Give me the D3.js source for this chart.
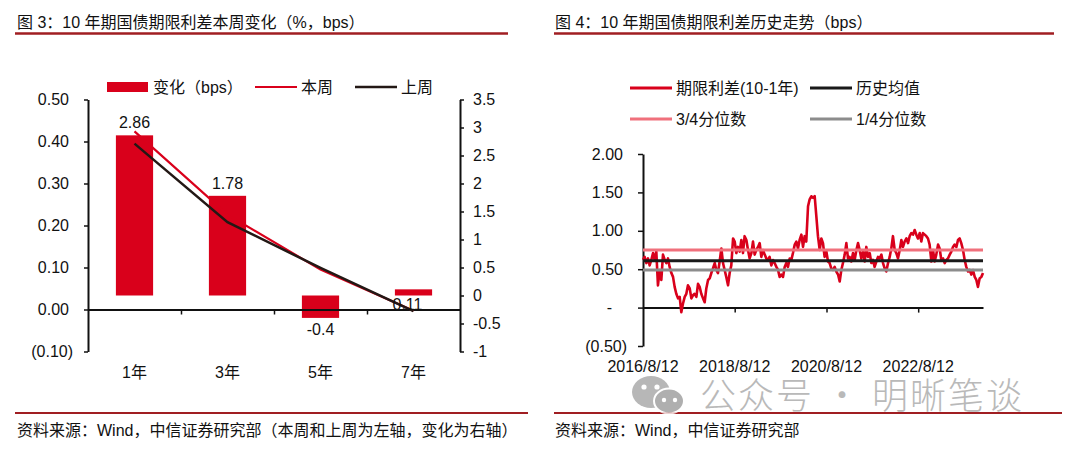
<!DOCTYPE html>
<html>
<head>
<meta charset="utf-8">
<script src="https://cdn.jsdelivr.net/npm/d3@7"></script>
<style>
body { margin: 0; background: #fff; }
text { font-family: "Liberation Sans", Arial, "Noto Sans CJK SC", sans-serif; fill: #111; }
</style>
</head>
<body>
<svg id="chart" width="1072" height="449"></svg>
<script>
// ---- left chart data (figure 3)
var tenors = ['1年', '3年', '5年', '7年'];
var thisWeek = [0.424, 0.226, 0.095, -0.003];
var lastWeek = [0.395, 0.208, 0.099, -0.004];
var changeBps = [2.86, 1.78, -0.4, 0.11];
var leftTicks = [-0.1, 0, 0.1, 0.2, 0.3, 0.4, 0.5];
var rightTicks = [-1, -0.5, 0, 0.5, 1, 1.5, 2, 2.5, 3, 3.5];

// ---- right chart data (figure 4), roughly every second week
var spreadStart = '2016-08-12';
var spreadEnd = '2024-01-10';
var spread = [0.62, 0.66, 0.58, 0.64, 0.55, 0.62, 0.71, 0.62, 0.73, 0.29, 0.49, 0.36, 0.69, 0.62, 0.58, 0.64, 0.53,
    0.45, 0.40, 0.27, 0.18, 0.12, 0.14, -0.06, 0.05, 0.14, 0.18, 0.29, 0.25, 0.12, 0.16, 0.18, 0.14, 0.31, 0.27, 0.18,
    0.12, 0.07, 0.25, 0.36, 0.38, 0.45, 0.51, 0.58, 0.49, 0.45, 0.60, 0.77, 0.58, 0.49, 0.40, 0.29, 0.45, 0.55, 0.90,
    0.86, 0.71, 0.79, 0.73, 0.88, 0.71, 0.93, 0.88, 0.75, 0.64, 0.71, 0.86, 0.69, 0.75, 0.79, 0.84, 0.66, 0.75, 0.69,
    0.64, 0.62, 0.66, 0.55, 0.62, 0.58, 0.53, 0.49, 0.40, 0.43, 0.40, 0.53, 0.58, 0.53, 0.64, 0.62, 0.71, 0.82, 0.86,
    0.77, 0.88, 0.95, 0.79, 0.93, 0.86, 1.32, 1.41, 1.45, 1.43, 1.45, 1.19, 0.93, 0.75, 0.90, 0.84, 0.66, 0.73, 0.60,
    0.58, 0.51, 0.49, 0.53, 0.47, 0.43, 0.34, 0.49, 0.58, 0.69, 0.84, 0.64, 0.66, 0.60, 0.71, 0.62, 0.75, 0.84, 0.75,
    0.64, 0.73, 0.60, 0.79, 0.66, 0.71, 0.58, 0.62, 0.53, 0.60, 0.66, 0.64, 0.69, 0.58, 0.51, 0.47, 0.58, 0.66, 0.77,
    0.93, 0.75, 0.71, 0.64, 0.75, 0.88, 0.79, 0.86, 0.90, 0.84, 0.93, 0.97, 0.95, 1.01, 0.95, 0.90, 0.97, 0.86, 0.97,
    0.95, 0.93, 0.90, 0.82, 0.60, 0.75, 0.60, 0.69, 0.82, 0.77, 0.62, 0.64, 0.58, 0.62, 0.64, 0.69, 0.73, 0.79, 0.82,
    0.79, 0.88, 0.90, 0.84, 0.75, 0.62, 0.53, 0.47, 0.49, 0.43, 0.49, 0.40, 0.36, 0.27, 0.38, 0.40, 0.45];
var spreadMean = 0.61;
var spreadQ75 = 0.75;
var spreadQ25 = 0.49;
var spreadTicks = [-0.5, 0, 0.5, 1, 1.5, 2];
var dateTicks = ['2016-08-12', '2018-08-12', '2020-08-12', '2022-08-12'];

var red = '#d9001b';
var darkRed = '#a01e22';
var svg = d3.select('#chart');
var parseDate = d3.timeParse('%Y-%m-%d');

// ---- titles and footers
svg.append('text').attr('x', 17).attr('y', 28).style('font-size', '16px')
    .text('图 3：10 年期国债期限利差本周变化（%，bps）');
svg.append('text').attr('x', 555).attr('y', 28).style('font-size', '16px')
    .text('图 4：10 年期国债期限利差历史走势（bps）');
[[15, 508], [554, 1054]].forEach(function (r) {
    svg.append('line').attr('x1', r[0]).attr('x2', r[1]).attr('y1', 33.5).attr('y2', 33.5)
        .attr('stroke', darkRed).attr('stroke-width', 2.5);
});
[[15, 528], [554, 1062]].forEach(function (r) {
    svg.append('line').attr('x1', r[0]).attr('x2', r[1]).attr('y1', 413).attr('y2', 413)
        .attr('stroke', darkRed).attr('stroke-width', 2);
});
svg.append('text').attr('x', 17).attr('y', 436).style('font-size', '16px')
    .text('资料来源：Wind，中信证券研究部（本周和上周为左轴，变化为右轴）');
svg.append('text').attr('x', 555).attr('y', 436).style('font-size', '16px')
    .text('资料来源：Wind，中信证券研究部');

// ---- left chart
var gL = svg.append('g');
var xL = d3.scaleBand().domain(tenors).range([88, 460]);
var yL = d3.scaleLinear().domain([-0.1, 0.5]).range([351.5, 99.5]);
var yR = d3.scaleLinear().domain([-1, 3.5]).range([351.5, 99.5]);
var bw = xL.bandwidth();

function styleAxis(g) {
    g.select('.domain').attr('stroke', '#111').attr('stroke-width', 2);
    g.selectAll('.tick line').attr('stroke', '#111').attr('stroke-width', 1.5);
    g.selectAll('.tick text').style('font-size', '16px').attr('fill', '#111');
}

gL.append('g')
    .attr('transform', 'translate(88,0)')
    .call(d3.axisLeft(yL).tickValues(leftTicks).tickSize(4).tickSizeOuter(0).tickPadding(11)
        .tickFormat(function (d) { return d < 0 ? '(' + d3.format('.2f')(-d) + ')' : d3.format('.2f')(d); }))
    .call(styleAxis)
    .selectAll('.tick text').attr('dx', function (d) { return d < 0 ? 0 : -4; });

gL.append('g')
    .attr('transform', 'translate(460,0)')
    .call(d3.axisRight(yR).tickValues(rightTicks).tickSize(4).tickSizeOuter(0).tickPadding(9)
        .tickFormat(function (d) { return String(d); }))
    .call(styleAxis);

gL.selectAll('rect.bar')
    .data(changeBps)
    .enter().append('rect')
    .attr('class', 'bar')
    .attr('x', function (d, i) { return xL(tenors[i]) + bw * 0.3; })
    .attr('width', bw * 0.4)
    .attr('y', function (d) { return yR(Math.max(0, d)); })
    .attr('height', function (d) { return Math.abs(yR(d) - yR(0)); })
    .attr('fill', red);

// category axis at zero of the left scale
var xSlot = d3.scaleLinear().domain([0, tenors.length]).range([88, 460]);
gL.append('g')
    .attr('transform', 'translate(0,' + yL(0) + ')')
    .call(d3.axisBottom(xSlot).tickValues([1, 2, 3]).tickSize(5).tickSizeOuter(0).tickFormat(''))
    .call(styleAxis);

gL.selectAll('text.cat')
    .data(tenors)
    .enter().append('text')
    .attr('class', 'cat')
    .attr('x', function (d) { return xL(d) + bw / 2; })
    .attr('y', 378)
    .attr('text-anchor', 'middle')
    .style('font-size', '16px')
    .text(function (d) { return d; });

var lineL = d3.line()
    .x(function (d, i) { return xL(tenors[i]) + bw / 2; })
    .y(function (d) { return yL(d); });
gL.append('path').datum(thisWeek).attr('d', lineL)
    .attr('fill', 'none').attr('stroke', red).attr('stroke-width', 2.2);
gL.append('path').datum(lastWeek).attr('d', lineL)
    .attr('fill', 'none').attr('stroke', '#231815').attr('stroke-width', 2.5);

gL.selectAll('text.lbl')
    .data(changeBps)
    .enter().append('text')
    .attr('class', 'lbl')
    .attr('x', function (d, i) { return xL(tenors[i]) + bw / 2 - (d > 0 && d < 1 ? 6 : 0); })
    .attr('y', function (d) {
        if (d >= 1) return yR(d) - 7;
        if (d < 0) return yR(d) + 17;
        return yR(0) + 14;
    })
    .attr('text-anchor', 'middle')
    .style('font-size', '16px')
    .text(function (d) { return d; });

// left legend
gL.append('rect').attr('x', 107).attr('y', 82).attr('width', 41).attr('height', 10).attr('fill', red);
gL.append('text').attr('x', 153).attr('y', 93).style('font-size', '16px').text('变化（bps）');
gL.append('line').attr('x1', 255).attr('x2', 297).attr('y1', 87).attr('y2', 87)
    .attr('stroke', red).attr('stroke-width', 2.2);
gL.append('text').attr('x', 301).attr('y', 93).style('font-size', '16px').text('本周');
gL.append('line').attr('x1', 355).attr('x2', 397).attr('y1', 87).attr('y2', 87)
    .attr('stroke', '#231815').attr('stroke-width', 2.5);
gL.append('text').attr('x', 401).attr('y', 93).style('font-size', '16px').text('上周');

// ---- right chart
var gR = svg.append('g');
var t0 = parseDate(spreadStart), t1 = parseDate(spreadEnd);
var span = d3.timeDay.count(t0, t1);
var spreadData = spread.map(function (v, i) {
    return { date: d3.timeDay.offset(t0, Math.round(i * span / (spread.length - 1))), value: v };
});
var xT = d3.scaleTime().domain([t0, t1]).range([643, 983]);
var yS = d3.scaleLinear().domain([-0.5, 2]).range([346, 154]);

gR.append('g')
    .attr('transform', 'translate(643,0)')
    .call(d3.axisLeft(yS).tickValues(spreadTicks).tickSize(5).tickSizeOuter(0).tickPadding(15)
        .tickFormat(function (d) {
            if (d === 0) return '-';
            return d < 0 ? '(' + d3.format('.2f')(-d) + ')' : d3.format('.2f')(d);
        }))
    .call(styleAxis)
    .selectAll('.tick text').attr('dx', function (d) { return d < 0 ? 4 : (d === 0 ? -11 : 0); });

gR.append('g')
    .attr('transform', 'translate(0,' + yS(0) + ')')
    .call(d3.axisBottom(xT).tickValues(dateTicks.slice(1).map(parseDate)).tickSize(5).tickSizeOuter(0).tickFormat(''))
    .call(styleAxis);

gR.selectAll('text.date')
    .data(dateTicks)
    .enter().append('text')
    .attr('class', 'date')
    .attr('x', function (d) { return xT(parseDate(d)); })
    .attr('y', 372)
    .attr('text-anchor', 'middle')
    .style('font-size', '16px')
    .text(function (d) { return d3.timeFormat('%Y/%-m/%-d')(parseDate(d)); });

gR.append('path').datum(spreadData)
    .attr('d', d3.line().x(function (d) { return xT(d.date); }).y(function (d) { return yS(d.value); }))
    .attr('fill', 'none').attr('stroke', red).attr('stroke-width', 2.6).attr('stroke-linejoin', 'round');

var refLines = [
    { v: spreadMean, c: '#1a1a1a' },
    { v: spreadQ75, c: '#f0707c' },
    { v: spreadQ25, c: '#8c8c8c' }
];
gR.selectAll('line.ref')
    .data(refLines)
    .enter().append('line')
    .attr('class', 'ref')
    .attr('x1', xT(t0)).attr('x2', xT(t1))
    .attr('y1', function (d) { return yS(d.v); })
    .attr('y2', function (d) { return yS(d.v); })
    .attr('stroke', function (d) { return d.c; })
    .attr('stroke-width', 3);

// right legend
var legR = [
    { name: '期限利差(10-1年)', c: red, x: 630, y: 88 },
    { name: '历史均值', c: '#1a1a1a', x: 810, y: 88 },
    { name: '3/4分位数', c: '#f0707c', x: 630, y: 119 },
    { name: '1/4分位数', c: '#8c8c8c', x: 810, y: 119 }
];
legR.forEach(function (d) {
    gR.append('line').attr('x1', d.x).attr('x2', d.x + 42).attr('y1', d.y).attr('y2', d.y)
        .attr('stroke', d.c).attr('stroke-width', 3);
    gR.append('text').attr('x', d.x + 46).attr('y', d.y + 6).style('font-size', '16px').text(d.name);
});

// ---- watermark
var wm = svg.append('g').attr('opacity', 0.8);
wm.append('ellipse').attr('cx', 651).attr('cy', 392).attr('rx', 19).attr('ry', 16).attr('fill', '#a6a6a6');
wm.append('ellipse').attr('cx', 669).attr('cy', 401).attr('rx', 15).attr('ry', 12.5)
    .attr('fill', '#9c9c9c').attr('stroke', '#fff').attr('stroke-width', 2);
[[644, 387, 2.6], [657, 387, 2.6], [664, 400, 2.2], [675, 400, 2.2]].forEach(function (p) {
    wm.append('circle').attr('cx', p[0]).attr('cy', p[1]).attr('r', p[2]).attr('fill', '#fff');
});
wm.append('text').attr('x', 700).attr('y', 409).style('font-size', '36px')
    .style('font-family', '"Noto Sans CJK SC", sans-serif').style('font-weight', 300)
    .style('letter-spacing', '2px')
    .style('fill', '#a8a8a8')
    .text('公众号 · 明晰笔谈');
</script>
</body>
</html>
